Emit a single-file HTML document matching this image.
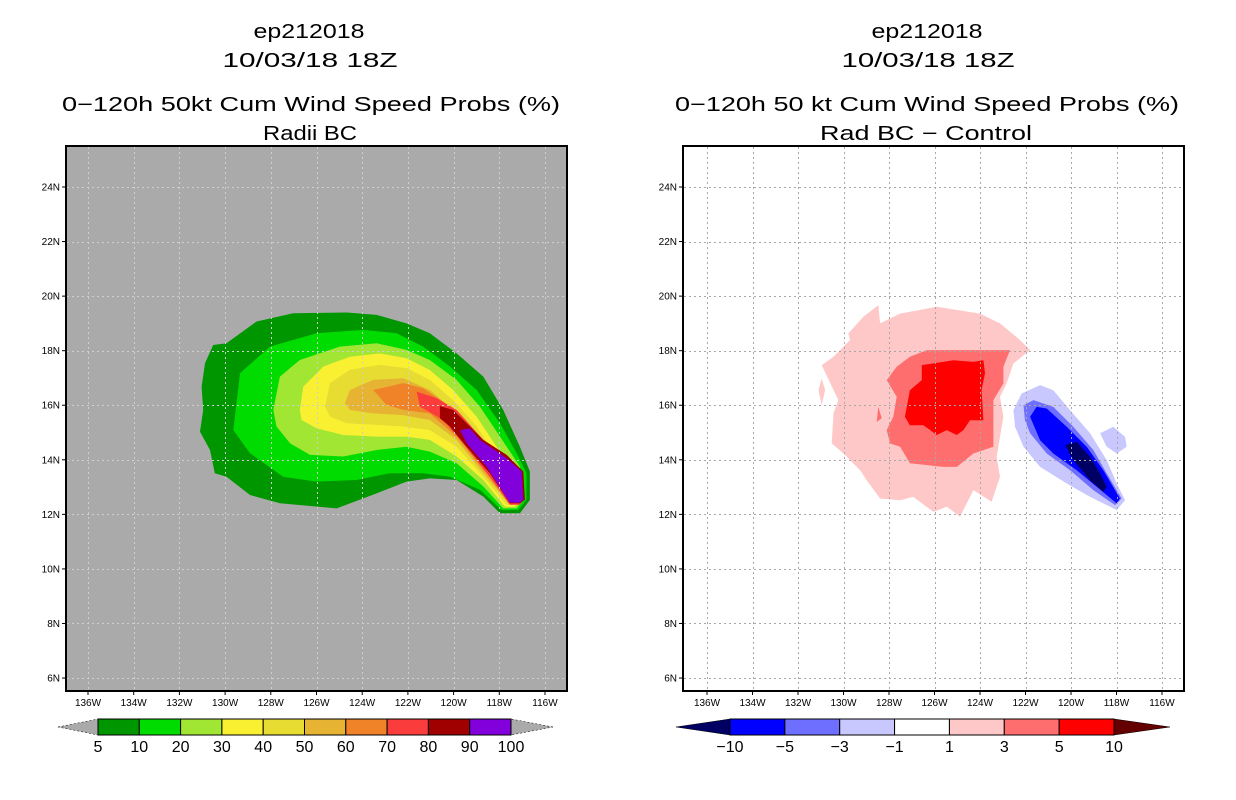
<!DOCTYPE html>
<html><head><meta charset="utf-8"><style>
html,body{margin:0;padding:0;background:#fff;}
svg{display:block;font-family:"Liberation Sans",sans-serif;}
</style></head><body>
<svg id="fig" width="1236" height="800" viewBox="0 0 1236 800" xmlns="http://www.w3.org/2000/svg"></svg>
<script>
// ---- data ----
const lonTicks = [-136,-134,-132,-130,-128,-126,-124,-122,-120,-118,-116];
const latTicks = [6,8,10,12,14,16,18,20,22,24];
const leftLevels = ["5","10","20","30","40","50","60","70","80","90","100"];
const leftColors = ["#009600","#00dc00","#a0e632","#faf032","#e6dc32","#e6b432","#f08228","#fa3c3c","#a00000","#8200dc"];
const rightLevels = ["\u221210","\u22125","\u22123","\u22121","1","3","5","10"];
const rightColors = ["#000064","#0000ff","#6e6eff","#c8c8ff","#ffffff","#ffc8c8","#ff6e6e","#ff0000","#640000"];
// left panel contour polygons [lon,lat], lowest level first
const probLevel5 = [[-130.88,17.54],[-130.52,18.21],[-129.94,18.27],[-128.62,19.07],[-127.02,19.37],[-124.68,19.40],[-123.37,19.31],[-122.06,19.00],[-121.04,18.64],[-119.87,17.90],[-118.70,17.05],[-117.83,15.83],[-117.10,14.48],[-116.66,13.57],[-116.66,12.53],[-117.10,12.04],[-117.97,12.04],[-118.70,12.65],[-119.87,13.26],[-121.04,13.32],[-122.06,13.20],[-123.37,12.77],[-125.12,12.22],[-127.60,12.41],[-128.91,12.71],[-129.94,13.38],[-130.45,13.51],[-130.66,14.36],[-131.10,15.03],[-130.96,15.83],[-131.03,16.68]];
const probLevel10 = [[-129.64,15.09],[-129.35,17.17],[-128.04,18.15],[-126.00,18.64],[-123.95,18.76],[-122.50,18.64],[-121.33,18.15],[-120.16,17.42],[-118.99,16.56],[-117.97,15.34],[-117.24,14.24],[-116.81,13.51],[-116.81,12.53],[-117.17,12.16],[-117.90,12.16],[-118.85,12.90],[-120.16,13.38],[-121.33,13.51],[-122.79,13.51],[-124.25,13.26],[-126.00,13.20],[-127.46,13.38],[-128.91,14.24]];
const probLevel20 = [[-127.89,15.83],[-127.60,17.05],[-126.73,17.66],[-124.98,18.15],[-123.37,18.27],[-122.06,18.03],[-121.04,17.66],[-119.87,16.93],[-118.85,15.95],[-117.97,14.85],[-117.10,13.75],[-116.95,12.53],[-117.24,12.22],[-117.83,12.22],[-118.70,13.02],[-119.87,13.87],[-121.04,14.30],[-122.06,14.48],[-123.37,14.36],[-124.83,14.12],[-126.29,14.18],[-127.16,14.61],[-127.75,15.22]];
const probLevel30 = [[-126.73,15.83],[-126.58,16.68],[-125.70,17.42],[-124.54,17.78],[-123.22,17.90],[-122.06,17.72],[-121.04,17.29],[-120.02,16.56],[-118.99,15.58],[-118.12,14.48],[-117.24,13.51],[-117.02,12.53],[-117.32,12.28],[-117.75,12.28],[-118.70,13.26],[-119.87,14.12],[-121.04,14.73],[-122.06,14.85],[-123.37,14.85],[-124.83,14.91],[-126.00,15.16],[-126.65,15.46]];
const probLevel40 = [[-125.63,15.95],[-125.41,16.81],[-124.54,17.30],[-123.22,17.48],[-122.06,17.36],[-121.04,16.93],[-120.02,16.19],[-118.99,15.22],[-118.12,14.12],[-117.32,13.26],[-117.10,12.53],[-117.39,12.35],[-117.68,12.35],[-118.70,13.38],[-119.87,14.48],[-121.04,15.09],[-122.20,15.22],[-123.37,15.28],[-124.68,15.34],[-125.41,15.58]];
const probLevel50 = [[-124.76,16.07],[-124.54,16.56],[-123.52,16.93],[-122.20,16.99],[-121.04,16.56],[-120.02,15.83],[-118.99,14.85],[-118.12,13.87],[-117.39,13.14],[-117.17,12.53],[-117.61,12.41],[-118.70,13.51],[-119.87,14.73],[-121.04,15.46],[-122.20,15.64],[-123.52,15.70],[-124.54,15.83]];
const probLevel60 = [[-123.52,16.56],[-122.20,16.81],[-121.33,16.62],[-120.16,15.95],[-118.99,14.73],[-118.12,13.75],[-117.46,13.02],[-117.24,12.53],[-117.54,12.41],[-118.70,13.63],[-119.87,14.85],[-121.04,15.70],[-122.20,15.83],[-122.93,16.01]];
const probLevel70 = [[-121.62,16.50],[-120.74,16.26],[-119.87,15.83],[-118.70,14.73],[-117.83,14.00],[-117.39,13.26],[-116.95,12.53],[-117.10,12.35],[-117.54,12.35],[-118.41,13.38],[-119.58,14.61],[-120.45,15.46],[-121.47,15.95]];
const probLevel80 = [[-120.60,15.97],[-120.02,15.83],[-119.43,15.34],[-118.70,14.73],[-117.68,14.18],[-116.95,13.57],[-116.88,12.53],[-117.10,12.41],[-117.54,12.41],[-118.41,13.51],[-119.43,14.48],[-120.16,15.22],[-120.60,15.52]];
const probLevel90 = [[-119.72,15.09],[-119.29,15.15],[-118.85,14.73],[-117.68,14.06],[-117.02,13.57],[-116.95,12.53],[-117.10,12.43],[-117.54,12.43],[-118.56,13.75],[-119.43,14.61]];
// right panel difference polygons
const diffPos1 = [[-130.96,17.47],[-130.44,17.78],[-129.71,18.39],[-129.79,18.63],[-129.13,19.24],[-128.47,19.67],[-128.39,19.00],[-127.51,19.36],[-125.90,19.61],[-124.00,19.36],[-123.12,19.00],[-122.24,18.39],[-121.80,18.02],[-122.53,17.53],[-122.83,16.80],[-123.12,16.31],[-122.97,15.58],[-123.12,14.84],[-123.27,14.11],[-123.12,13.38],[-123.49,12.46],[-124.29,12.89],[-124.88,11.91],[-125.46,12.28],[-126.05,12.09],[-126.93,12.64],[-127.51,12.52],[-128.39,12.58],[-128.98,13.25],[-129.27,13.62],[-130.00,14.23],[-130.52,14.60],[-130.44,15.70],[-130.23,16.19],[-130.44,16.56]];
const diffPos1b = [[-131.10,16.56],[-130.96,16.98],[-130.81,16.56],[-130.96,16.00]];
const diffPos3 = [[-126.34,18.02],[-122.68,18.02],[-122.97,17.41],[-122.97,16.80],[-123.41,16.19],[-123.41,14.48],[-124.29,14.23],[-125.02,13.74],[-125.61,13.74],[-127.08,13.87],[-127.51,14.48],[-127.95,14.60],[-128.10,15.09],[-127.81,15.58],[-127.66,16.31],[-128.10,16.92],[-127.66,17.41],[-127.08,17.78]];
const diffPos3b = [[-128.47,15.94],[-128.32,15.52],[-128.54,15.39]];
const diffPos5 = [[-126.56,17.47],[-125.17,17.65],[-124.29,17.59],[-123.85,17.65],[-123.78,17.17],[-123.93,16.55],[-123.85,15.45],[-124.44,15.45],[-124.73,15.09],[-125.02,14.91],[-125.46,15.09],[-125.90,14.91],[-126.49,15.27],[-127.08,15.27],[-127.30,15.58],[-127.08,16.55],[-126.56,16.92]];
const diffNeg1 = [[-122.53,15.82],[-122.17,16.43],[-121.36,16.74],[-120.78,16.55],[-120.04,15.82],[-119.16,14.97],[-118.43,13.99],[-117.99,13.13],[-117.62,12.52],[-117.99,12.16],[-119.16,12.64],[-120.19,13.13],[-121.36,13.74],[-122.09,14.48],[-122.46,15.21]];
const diffNeg1b = [[-118.72,14.97],[-118.14,15.21],[-117.62,14.84],[-117.55,14.48],[-117.99,14.23],[-118.43,14.48]];
const diffNeg3 = [[-122.09,16.00],[-121.65,16.19],[-120.78,15.94],[-119.90,15.21],[-119.02,14.36],[-118.43,13.50],[-117.77,12.58],[-118.06,12.34],[-119.02,12.89],[-120.04,13.62],[-121.07,14.23],[-121.80,14.97],[-122.02,15.45]];
const diffNeg5 = [[-121.80,15.58],[-121.51,15.94],[-121.07,15.88],[-120.19,15.21],[-119.31,14.48],[-118.58,13.62],[-117.85,12.58],[-117.99,12.40],[-118.87,13.01],[-119.75,13.62],[-120.78,14.23],[-121.36,14.72]];
const diffNeg10 = [[-120.26,14.54],[-119.75,14.66],[-119.16,14.11],[-118.72,13.50],[-118.43,13.01],[-118.58,12.83],[-119.16,13.25],[-119.90,13.99]];

// ---- drawing ----
const NS='http://www.w3.org/2000/svg';
const svg=document.getElementById('fig');
function mk(tag,attrs,parent){const e=document.createElementNS(NS,tag);for(const k in attrs)e.setAttribute(k,attrs[k]);(parent||svg).appendChild(e);return e;}
function txt(s,x,y,size,anchor,len,parent){const t=mk('text',{x:x,y:y,'font-size':size,'text-anchor':anchor||'middle',fill:'#000'},parent);if(len){t.setAttribute('textLength',len);t.setAttribute('lengthAdjust','spacingAndGlyphs');}t.textContent=s;return t;}

function panel(o){
  const g=mk('g',{});
  
  
  const xs=lon=>o.x136+(lon+136)*o.pxDeg;
  const ys=lat=>187+(24-lat)*27.28;
  const tg=mk('g',{},g);
  
  
  o.titles.forEach(t=>txt(t[0],t[1],t[2],20,'middle',t[3],tg));
  mk('rect',{x:o.fx,y:146,width:501,height:545,fill:o.bg},g);
  const cg=mk('g',{},g);
  
  
  o.polys.forEach(p=>{
    const pts=p[0].map(q=>xs(q[0]).toFixed(1)+','+ys(q[1]).toFixed(1)).join(' ');
    const el=mk('polygon',{points:pts,fill:p[1]},cg);
    
    
  });
  const gg=mk('g',{stroke:o.grid,'stroke-width':1,'stroke-dasharray':'2,3'},g);
  
  
  lonTicks.forEach(l=>{const x=Math.round(xs(l))+0.5;mk('line',{x1:x,x2:x,y1:147,y2:690},gg);});
  latTicks.forEach(l=>{const y=Math.round(ys(l))+0.5;mk('line',{x1:o.fx+1,x2:o.fx+500,y1:y,y2:y},gg);});
  const fr=mk('rect',{x:o.fx,y:146,width:501,height:545,fill:'none',stroke:'#000','stroke-width':2},g);
  
  
  const ag=mk('g',{},g);
  
  
  lonTicks.forEach(l=>{const x=xs(l);mk('line',{x1:x,x2:x,y1:691,y2:695,stroke:'#000'},ag);
    txt(Math.abs(l)+'W',x,706,10,'middle',null,ag);});
  latTicks.forEach(l=>{const y=ys(l);mk('line',{x1:o.fx-4,x2:o.fx,y1:y,y2:y,stroke:'#000'},ag);
    txt(l+'N',o.fx-6,y+3.5,10,'end',null,ag);});
  const cb=mk('g',{},g);
  
  
  const segs=o.cbSegColors, w=(o.cbR-o.cbL)/segs.length;
  mk('polygon',{points:`${o.cbTipL},727 ${o.cbL},719 ${o.cbL},735`,fill:o.triL,stroke:'#000','stroke-width':0.5,'stroke-dasharray':o.triDash},cb);
  mk('polygon',{points:`${o.cbTipR},727 ${o.cbR},719 ${o.cbR},735`,fill:o.triR,stroke:'#000','stroke-width':0.5,'stroke-dasharray':o.triDash},cb);
  segs.forEach((c,i)=>{const r=mk('rect',{x:o.cbL+i*w,y:719,width:w,height:16,fill:c,stroke:'#000','stroke-width':1},cb);
    
    });
  o.cbLabels.forEach((s,i)=>{const x=o.cbL+i*w;txt(s,x,752,16,'middle',null,cb);});
}

panel({name:'left-panel-radii-bc',x136:88,pxDeg:22.85,fx:66,bg:'#aaaaaa',grid:'#cfcfcf',
  titles:[['ep212018',309,38,111],['10/03/18 18Z',310,67,175],['0\u2212120h 50kt Cum Wind Speed Probs (%)',311,111,498],['Radii BC',310,140,94]],
  polys:[[probLevel5,leftColors[0],'5'],[probLevel10,leftColors[1],'10'],[probLevel20,leftColors[2],'20'],[probLevel30,leftColors[3],'30'],[probLevel40,leftColors[4],'40'],[probLevel50,leftColors[5],'50'],[probLevel60,leftColors[6],'60'],[probLevel70,leftColors[7],'70'],[probLevel80,leftColors[8],'80'],[probLevel90,leftColors[9],'90']],
  cbSegColors:leftColors,cbL:98,cbR:511,cbTipL:58,cbTipR:553,triL:'#aaaaaa',triR:'#aaaaaa',triDash:'2,2',
  cbLabels:leftLevels});

panel({name:'right-panel-difference',x136:707,pxDeg:22.75,fx:683,bg:'#ffffff',grid:'#a8a8a8',
  titles:[['ep212018',927,38,111],['10/03/18 18Z',928,67,173],['0\u2212120h 50 kt Cum Wind Speed Probs (%)',927,111,504],['Rad BC \u2212 Control',926,140,212]],
  polys:[[diffPos1,rightColors[5],'pos1'],[diffPos1b,rightColors[5],'pos1b'],[diffPos3,rightColors[6],'pos3'],[diffPos3b,rightColors[6],'pos3b'],[diffPos5,rightColors[7],'pos5'],[diffNeg1,rightColors[3],'neg1'],[diffNeg1b,rightColors[3],'neg1b'],[diffNeg3,rightColors[2],'neg3'],[diffNeg5,rightColors[1],'neg5'],[diffNeg10,rightColors[0],'neg10']],
  cbSegColors:rightColors.slice(1,8),cbL:730,cbR:1114,cbTipL:676,cbTipR:1170,triL:'#000064',triR:'#640000',triDash:'none',
  cbLabels:rightLevels});
</script>
</body></html>
